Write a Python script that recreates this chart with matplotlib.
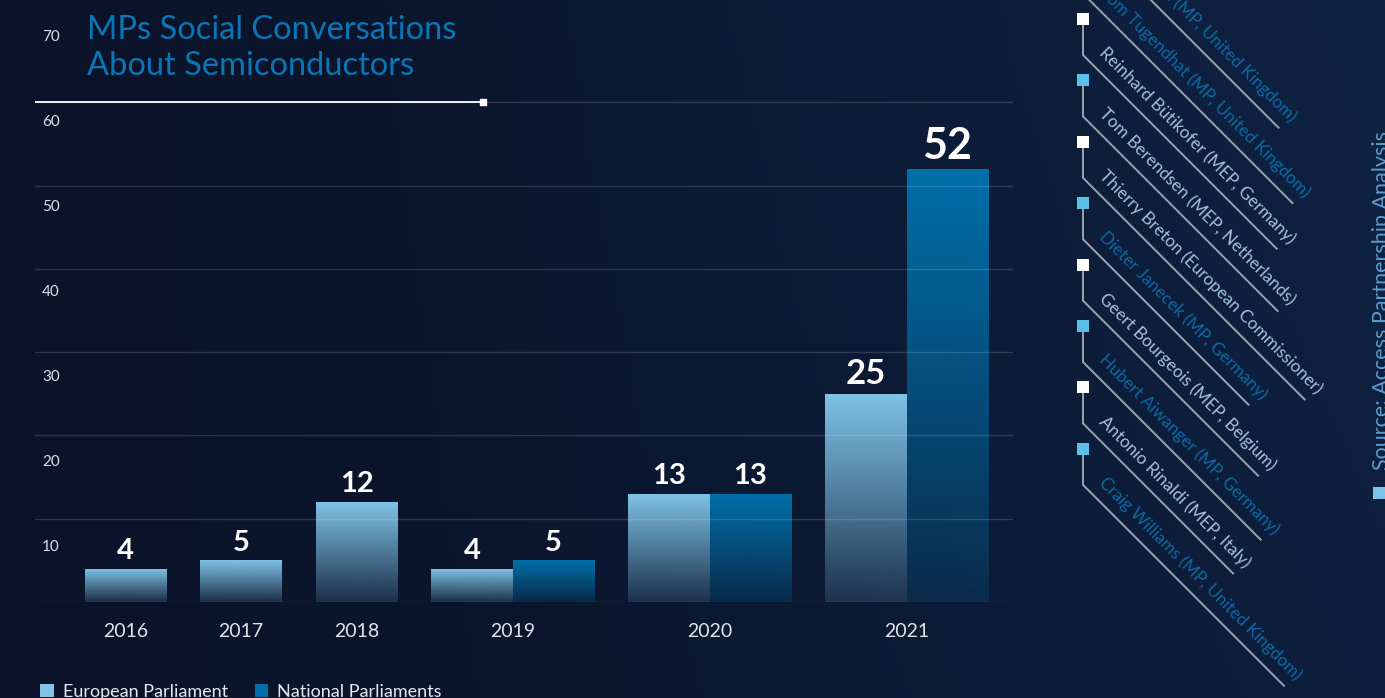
import matplotlib.pyplot as plt
import numpy as np
import matplotlib.colors as mcolors
from matplotlib.patches import Patch
from matplotlib.textpath import TextPath
from matplotlib.font_manager import FontProperties

# --- data ---
years = ["2016", "2017", "2018", "2019", "2020", "2021"]
european = [4, 5, 12, 4, 13, 25]
national = [None, None, None, 5, 13, 52]
series_names = ["European Parliament", "National Parliaments"]
grid_values = [0, 10, 20, 30, 40, 50, 60]
ytick_values = [10, 20, 30, 40, 50, 60, 70]

people = [
    "Chi Onwurah (MP, United Kingdom)",
    "Tom Tugendhat (MP, United Kingdom)",
    "Reinhard Bütikofer (MEP, Germany)",
    "Tom Berendsen (MEP, Netherlands)",
    "Thierry Breton (European Commissioner)",
    "Dieter Janecek (MP, Germany)",
    "Geert Bourgeois (MEP, Belgium)",
    "Hubert Aiwanger (MP, Germany)",
    "Antonio Rinaldi (MEP, Italy)",
    "Craig Williams (MP, United Kingdom)",
]
source = "Source: Access Partnership Analysis"
title = "MPs Social Conversations\nAbout Semiconductors"

# --- style ---
W, H = 1385, 698
FONT = "Lato"
BG_LEFT = "#0a1329"
BG_RIGHT = "#0f2343"
EP_COLOR = "#80c4e8"
NP_COLOR = "#0070aa"
TITLE_COLOR = "#0a76b6"
LIGHT_TEXT = "#a4c2da"
BLUE_TEXT = "#0b6aa6"

plt.rcParams["font.family"] = [FONT, "DejaVu Sans"]

fig = plt.figure(figsize=(W / 100, H / 100), dpi=100)
fig.patch.set_facecolor(BG_LEFT)

# background gradient
bg = fig.add_axes([0, 0, 1, 1], zorder=-10)
c0 = np.array(mcolors.to_rgb(BG_LEFT))
c1 = np.array(mcolors.to_rgb(BG_RIGHT))
tx = np.linspace(0, 1, 200)[None, :, None]
ty = np.linspace(0, 1, 100)[:, None, None]
grad = c0 + (c1 - c0) * (tx ** 1.3) * (0.75 + 0.25 * (1 - ty))
bg.imshow(grad, aspect="auto", extent=[0, 1, 0, 1])
bg.axis("off")

# main chart axes
ax = fig.add_axes([35 / W, (H - 602) / H, 978 / W, 583 / H])
ax.set_facecolor("none")
for s in ax.spines.values():
    s.set_visible(False)

gap = 0.42
x = 0.0
centers = []
bar_specs = []
for i, yr in enumerate(years):
    start = x
    for s_idx, vals in enumerate([european, national]):
        v = vals[i]
        if v is None:
            continue
        bar_specs.append((x, v, s_idx))
        x += 1
    centers.append((start + x) / 2)
    x += gap
last_end = x - gap


def gradient_rgba(color, a_bottom):
    rgb = mcolors.to_rgb(color)
    img = np.zeros((256, 1, 4))
    img[..., :3] = rgb
    img[:, 0, 3] = np.linspace(a_bottom, 1.0, 256)
    return img


for left, v, s_idx in bar_specs:
    color = EP_COLOR if s_idx == 0 else NP_COLOR
    a_bottom = 0.15 if s_idx == 0 else 0.2
    bars = ax.bar(left, v, width=1.0, align="edge", color="none", linewidth=0, zorder=2)
    im = ax.imshow(gradient_rgba(color, a_bottom), extent=[left, left + 1, 0, v],
                   origin="lower", aspect="auto", zorder=2)
    im.set_clip_path(bars.patches[0])
    if v >= 50:
        fs = 31
    elif v >= 20:
        fs = 25
    else:
        fs = 21
    ax.annotate(str(v), (left + 0.5, v), xytext=(0, 7), textcoords="offset points",
                ha="center", va="baseline", fontsize=fs, fontweight="bold",
                color="white", zorder=4)

ax.set_xlim(-0.613, last_end + 0.307)
ax.set_ylim(0, 70)

for g in grid_values:
    ax.axhline(g, color="white", alpha=0.14, lw=1, zorder=3)
wline = (483 - 35) / 978
ax.axhline(60, xmin=0, xmax=wline, color="white", lw=1.3, zorder=4)
ax.plot([wline], [60], marker="s", ms=4, color="white",
        transform=ax.get_yaxis_transform(), clip_on=False, zorder=4)

ax.set_xticks(centers, labels=years)
ax.set_yticks(np.array(ytick_values) * 1.02 - 3.4, labels=[str(v) for v in ytick_values])
ax.tick_params(axis="x", length=0, pad=15, labelsize=14, labelcolor="#e0e4ea")
ax.tick_params(axis="y", length=0, pad=-5, labelsize=11, labelcolor="#dde2ea")
for lbl in ax.get_yticklabels():
    lbl.set_horizontalalignment("left")

# title
fig.text(87 / W, 1 - 15 / H, title, ha="left", va="top", fontsize=23.5,
         color=TITLE_COLOR, linespacing=1.25)

# legend
handles = [Patch(facecolor=EP_COLOR, edgecolor="none"),
           Patch(facecolor=NP_COLOR, edgecolor="none")]
leg = fig.legend(handles, series_names, loc="upper left",
                 bbox_to_anchor=(40 / W, (H - 684) / H), ncol=2, frameon=False,
                 fontsize=13, handlelength=0.75, handleheight=0.75,
                 handletextpad=0.5, columnspacing=1.5, borderpad=0,
                 borderaxespad=0, labelcolor="#e6e9ee")

# right-side list of people
ov = fig.add_axes([0, 0, 1, 1], zorder=5)
ov.set_xlim(0, W)
ov.set_ylim(H, 0)
ov.axis("off")

name_fs = 12.3
prop = FontProperties(family=FONT, size=name_fs)
sq_x = 1083
first_y = 19 - 2 * 61.4
for k, name in enumerate(people):
    y = first_y + k * 61.4
    sq_color = "white" if k % 2 == 0 else "#5bc0e8"
    txt_color = BLUE_TEXT if "(MP," in name else LIGHT_TEXT
    width_px = TextPath((0, 0), name, size=name_fs * 100 / 72, prop=prop).get_extents().width
    L = 8 + width_px
    d = L / np.sqrt(2)
    ov.plot([sq_x, sq_x, sq_x + d], [y + 6, y + 36, y + 36 + d],
            color="#9ba4ae", lw=1.4, solid_joinstyle="miter")
    ov.plot([sq_x], [y], marker="s", ms=8.6, mew=0, color=sq_color)
    ov.text(sq_x + 15, y + 35, name, rotation=-45, rotation_mode="anchor",
            ha="left", va="baseline", fontsize=name_fs, color=txt_color)

# source note
ov.text(1388, 470, source, rotation=90, rotation_mode="anchor", ha="left",
        va="baseline", fontsize=15.5, color="#5a9ccc")
ov.plot([1379], [493], marker="s", ms=9, mew=0, color="#80c2e8", clip_on=False)

fig.savefig("out.png", dpi=100, facecolor=fig.get_facecolor())
